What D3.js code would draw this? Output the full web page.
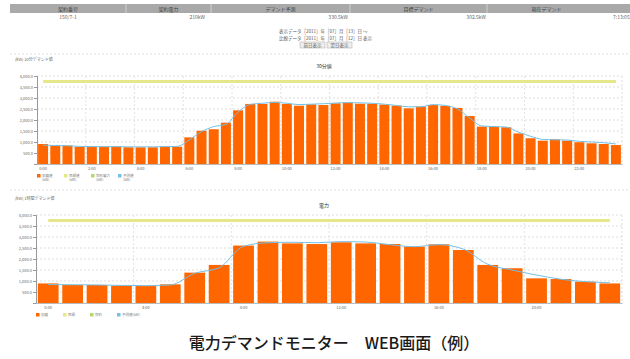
<!DOCTYPE html>
<html>
<head>
<meta charset="utf-8">
<script src="https://cdn.jsdelivr.net/npm/d3@7"></script>
<style>
  body { margin: 0; background: #fff; }
  text { font-family: "Noto Sans CJK JP", "Noto Sans", sans-serif; }
</style>
</head>
<body>
<div id="vis"></div>
<script>
// 30 minute demand, 48 slots (kW)
const slots30 = d3.range(48).map(i => Math.floor(i / 2) + ":" + (i % 2 ? "30" : "00"))
const actual30 = [910, 840, 840, 780, 790, 780, 800, 760, 760, 760, 790, 790,
  1210, 1510, 1580, 1880, 2440, 2730, 2730, 2830, 2730, 2650, 2710, 2680,
  2760, 2790, 2740, 2740, 2700, 2650, 2530, 2610, 2680, 2640, 2550, 2180,
  1700, 1700, 1670, 1390, 1170, 1060, 1120, 1060, 990, 940, 910, 860]
const forecast30 = [860, 840, 830, 800, 790, 790, 790, 780, 780, 780, 790, 800,
  1100, 1470, 1700, 1800, 2360, 2710, 2760, 2800, 2760, 2700, 2720, 2740,
  2770, 2790, 2780, 2760, 2720, 2660, 2600, 2600, 2700, 2660, 2500, 2090,
  1730, 1700, 1680, 1450, 1260, 1120, 1100, 1090, 1030, 1000, 970, 910]

// hourly demand, 24 slots (kW)
const slots60 = d3.range(24).map(i => i + ":00")
const actual60 = [890, 820, 820, 790, 770, 850, 1380, 1730, 2610, 2790, 2710, 2680,
  2760, 2710, 2680, 2560, 2670, 2410, 1730, 1580, 1120, 1090, 970, 890]
const forecast60 = [840, 830, 820, 800, 790, 820, 1350, 1600, 2580, 2740, 2760, 2740,
  2790, 2770, 2650, 2560, 2650, 2450, 1760, 1500, 1270, 1080, 970, 920]

const target = 3750
const yTicks = [0, 500, 1000, 1500, 2000, 2500, 3000, 3500, 4000]

// header table
const headCols = ["契約番号", "契約電力", "デマンド予測", "目標デマンド", "現在デマンド"]
const headVals = ["150/7-1", "210kW", "330.5kW", "302.5kW", "7:13:05"]

const legendTop = ["実績値", "目標値", "契約電力", "予測値"]
const legendBottom = ["実績", "目標", "契約", "予測値(kW)"]

const colors = { bar: "#ff6600", target: "#e6e68a", contract: "#b5d96a", forecast: "#74c0e6" }

const svg = d3.select("#vis").append("svg")
  .attr("width", 630)
  .attr("height", 359)

//header bar
const colEdges = [10, 126, 211, 350, 487, 630]
svg.append("rect").attr("x", 10).attr("y", 4).attr("width", 620).attr("height", 9).attr("fill", "#a9a9a9")
svg.selectAll(".sep").data(colEdges.slice(1, 5)).enter().append("line")
  .attr("x1", d => d).attr("x2", d => d).attr("y1", 4).attr("y2", 13)
  .attr("stroke", "#d0d0d0")
svg.selectAll(".hd").data(headCols).enter().append("text")
  .attr("x", (d, i) => (colEdges[i] + colEdges[i + 1]) / 2 + (i == 4 ? -12 : 0))
  .attr("y", 10.5).attr("text-anchor", "middle").attr("font-size", 5).attr("fill", "#444")
  .text(d => d)
const valX = [68, 205, 348, 486, 613]
svg.selectAll(".hv").data(headVals).enter().append("text")
  .attr("x", (d, i) => valX[i]).attr("y", 19)
  .attr("text-anchor", (d, i) => i == 0 ? "middle" : (i == 4 ? "start" : "end"))
  .attr("font-size", 5).attr("fill", "#666")
  .text(d => d)

//date selector block
const sel = svg.append("g").attr("font-size", 4.5).attr("fill", "#555")
sel.append("text").attr("x", 279).attr("y", 33).text("表示データ［2011］年［07］月［13］日 ～")
sel.append("text").attr("x", 279).attr("y", 40).text("比較データ［2011］年［07］月［12］日 表示")
const btns = ["前日表示", "翌日表示"]
sel.selectAll("rect").data(btns).enter().append("rect")
  .attr("x", (d, i) => 300 + i * 27).attr("y", 42).attr("width", 25).attr("height", 6)
  .attr("fill", "#eee").attr("stroke", "#aaa").attr("stroke-width", 0.5)
sel.selectAll(".bt").data(btns).enter().append("text")
  .attr("x", (d, i) => 312.5 + i * 27).attr("y", 46.8).attr("text-anchor", "middle")
  .text(d => d)

//panel separators
svg.selectAll(".psep").data([54, 190]).enter().append("line")
  .attr("x1", 10).attr("x2", 630).attr("y1", d => d).attr("y2", d => d)
  .attr("stroke", "#ddd").attr("stroke-dasharray", "2,2")

function drawChart(cfg) {
  const g = svg.append("g")

  const x = d3.scaleBand().domain(cfg.slots).range([cfg.left, 622]).paddingInner(cfg.pad).paddingOuter(cfg.pad / 2)
  const y = d3.scaleLinear().domain([0, 4000]).range([cfg.bottom, cfg.bottom - 88])
  const step = x.step()

  //small caption and title
  g.append("text").attr("x", 15).attr("y", cfg.bottom - 103).attr("font-size", 4).attr("fill", "#666").text(cfg.note)
  g.append("text").attr("x", 324).attr("y", cfg.bottom - 96).attr("font-size", 5).attr("fill", "#333")
    .attr("text-anchor", "middle").text(cfg.title)

  //grid
  g.selectAll(".hg").data(yTicks.slice(1)).enter().append("line")
    .attr("x1", cfg.left).attr("x2", 622).attr("y1", d => y(d)).attr("y2", d => y(d))
    .attr("stroke", "#ddd").attr("stroke-dasharray", "2,2")
  const vlines = cfg.slots.filter((d, i) => i > 0 && i % 4 == 0)
  g.selectAll(".vg").data(vlines).enter().append("line")
    .attr("x1", d => x(d) - step * cfg.pad / 2).attr("x2", d => x(d) - step * cfg.pad / 2)
    .attr("y1", y(4000)).attr("y2", y(0))
    .attr("stroke", "#e2e2e2").attr("stroke-dasharray", "2,2")
  g.append("line").attr("x1", 622).attr("x2", 622).attr("y1", y(4000)).attr("y2", y(0))
    .attr("stroke", "#ddd").attr("stroke-dasharray", "2,2")

  //bars
  g.selectAll(".bar").data(cfg.actual).enter().append("rect")
    .attr("x", (d, i) => x(cfg.slots[i]))
    .attr("y", d => y(d))
    .attr("width", x.bandwidth())
    .attr("height", d => y(0) - y(d))
    .attr("fill", colors.bar)

  //target line
  const center = (d, i) => x(cfg.slots[i]) + x.bandwidth() / 2
  g.append("path")
    .datum(cfg.actual.map(() => target))
    .attr("d", d3.line().x(center).y(d => y(d)))
    .attr("fill", "none").attr("stroke", colors.target).attr("stroke-width", 3)

  //forecast line
  g.append("path")
    .datum(cfg.forecast)
    .attr("d", d3.line().x(center).y(d => y(d)).curve(d3.curveMonotoneX))
    .attr("fill", "none").attr("stroke", colors.forecast).attr("stroke-width", 1)

  //axes
  const ya = g.append("g").attr("transform", `translate(${cfg.left},0)`)
    .call(d3.axisLeft(y).tickValues(yTicks.slice(1)).tickFormat(d3.format(",.1f")).tickSize(3).tickPadding(1))
  ya.selectAll("text").attr("font-size", 4).attr("fill", "#666")
  ya.selectAll("line, path").attr("stroke", "#999")

  const xa = g.append("g").attr("transform", `translate(0,${cfg.bottom})`)
    .call(d3.axisBottom(x).tickValues(cfg.slots.filter((d, i) => i % cfg.every == 0)).tickSize(0).tickPadding(3))
  xa.selectAll("text").attr("font-size", 4).attr("fill", "#666")
  xa.select("path").attr("stroke", "#bbb")

  //legend
  const lc = [colors.bar, colors.target, colors.contract, colors.forecast]
  const lg = g.selectAll(".lg").data(cfg.legend).enter().append("g")
    .attr("transform", (d, i) => `translate(${cfg.left + i * 27},${cfg.bottom + 12})`)
  lg.append("rect").attr("width", 3.5).attr("height", 3.5).attr("y", -2).attr("fill", (d, i) => lc[i])
  lg.append("text").attr("x", 5).attr("y", 1).attr("font-size", 3.5).attr("fill", "#777").text(d => d)
  if (cfg.twoLine) {
    lg.append("text").attr("x", 5).attr("y", 5).attr("font-size", 3.5).attr("fill", "#777").text("(kW)")
  }
}

drawChart({ slots: slots30, actual: actual30, forecast: forecast30, left: 37, bottom: 164, pad: 0.18,
  every: 4, title: "30分値", note: "(kW) 30分デマンド値", legend: legendTop, twoLine: true })
drawChart({ slots: slots60, actual: actual60, forecast: forecast60, left: 36, bottom: 303, pad: 0.15,
  every: 4, title: "電力", note: "(kW) 1時間デマンド値", legend: legendBottom, twoLine: false })

//caption
svg.append("text")
  .attr("x", 334).attr("y", 349)
  .attr("text-anchor", "middle")
  .attr("font-size", 16)
  .attr("font-weight", 500)
  .attr("fill", "#1a1a1a")
  .text("電力デマンドモニター　WEB画面（例）")
</script>
</body>
</html>
